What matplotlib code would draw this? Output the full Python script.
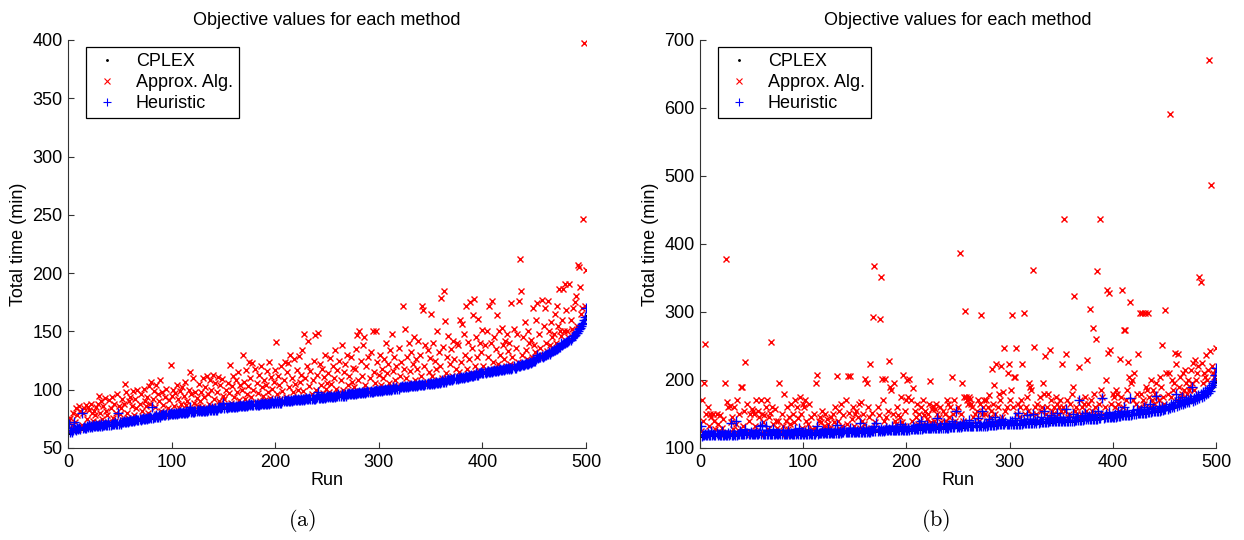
"""
Objective values for each method - two panel scatter of 500 runs.
CPLEX (exact), approximation algorithm and heuristic, sorted by CPLEX value.
"""

import numpy as np
import matplotlib
matplotlib.use("Agg")
import matplotlib.pyplot as plt

plt.rcParams["font.family"] = ["Liberation Sans", "DejaVu Sans"]
plt.rcParams["font.size"] = 13

# ---------------------------------------------------------------------------
# Data (one value per run, 25 runs per line)
# ---------------------------------------------------------------------------
RUNS = np.arange(1, 501)
X_TICKS = [0, 100, 200, 300, 400, 500]
Y_TICKS_A = [50, 100, 150, 200, 250, 300, 350, 400]
Y_TICKS_B = [100, 200, 300, 400, 500, 600, 700]
LABELS = ["CPLEX", "Approx. Alg.", "Heuristic"]
PANEL_TAGS = ["(a)", "(b)"]

# panel (a)
CPLEX_A = [
    63, 64, 64, 64, 65, 65, 65, 65, 65, 66, 66, 66, 66, 67, 67, 67, 67, 67, 68, 68, 68, 68, 68, 68, 69,
    69, 69, 69, 69, 69, 69, 69, 69, 70, 70, 70, 70, 70, 70, 70, 70, 70, 71, 71, 71, 71, 71, 71, 71, 71,
    71, 71, 72, 72, 72, 72, 72, 72, 73, 73, 73, 73, 73, 73, 74, 74, 74, 74, 74, 74, 75, 75, 75, 75, 75,
    75, 75, 76, 76, 76, 76, 76, 76, 77, 77, 77, 77, 77, 77, 77, 78, 78, 78, 78, 78, 78, 78, 79, 79, 79,
    79, 79, 79, 79, 79, 79, 80, 80, 80, 80, 80, 80, 80, 80, 80, 81, 81, 81, 81, 81, 81, 81, 81, 82, 82,
    82, 82, 82, 82, 82, 82, 82, 82, 82, 83, 83, 83, 83, 83, 83, 83, 83, 83, 83, 84, 84, 84, 84, 84, 84,
    84, 84, 84, 84, 85, 85, 85, 85, 85, 85, 85, 85, 85, 85, 86, 86, 86, 86, 86, 86, 86, 86, 86, 87, 87,
    87, 87, 87, 87, 87, 87, 87, 87, 87, 87, 88, 88, 88, 88, 88, 88, 88, 88, 88, 88, 89, 89, 89, 89, 89,
    89, 89, 89, 89, 89, 89, 89, 90, 90, 90, 90, 90, 90, 90, 90, 90, 90, 91, 91, 91, 91, 91, 91, 91, 91,
    91, 91, 91, 92, 92, 92, 92, 92, 92, 92, 92, 92, 92, 93, 93, 93, 93, 93, 93, 93, 93, 93, 93, 94, 94,
    94, 94, 94, 94, 94, 94, 94, 94, 94, 95, 95, 95, 95, 95, 95, 95, 95, 95, 95, 96, 96, 96, 96, 96, 96,
    96, 96, 96, 96, 97, 97, 97, 97, 97, 97, 97, 97, 98, 98, 98, 98, 98, 98, 98, 98, 99, 99, 99, 99, 99,
    99, 99, 99, 99, 100, 100, 100, 100, 100, 100, 100, 100, 101, 101, 101, 101, 101, 101, 101, 101, 102, 102, 102, 102, 102,
    102, 102, 102, 102, 103, 103, 103, 103, 103, 103, 103, 103, 104, 104, 104, 104, 104, 104, 104, 104, 105, 105, 105, 105, 105,
    105, 105, 105, 106, 106, 106, 106, 106, 106, 107, 107, 107, 107, 107, 107, 108, 108, 108, 108, 108, 108, 109, 109, 109, 109,
    109, 109, 110, 110, 110, 110, 110, 111, 111, 111, 111, 111, 112, 112, 112, 112, 112, 113, 113, 113, 113, 113, 114, 114, 114,
    114, 114, 114, 115, 115, 115, 115, 115, 115, 116, 116, 116, 116, 116, 116, 117, 117, 117, 117, 117, 117, 118, 118, 118, 118,
    118, 118, 118, 119, 119, 119, 119, 120, 120, 120, 120, 121, 121, 121, 121, 122, 122, 122, 122, 123, 123, 123, 124, 124, 125,
    125, 126, 126, 127, 127, 128, 128, 128, 129, 129, 130, 130, 131, 131, 131, 132, 132, 133, 133, 134, 134, 135, 135, 136, 137,
    137, 138, 139, 139, 140, 140, 141, 142, 142, 143, 144, 145, 146, 147, 148, 149, 150, 151, 153, 154, 155, 157, 159, 161, 163,
]
APPROX_A = [
    74, 76, 66, 70, 80, 65, 72, 84, 78, 66, 86, 82, 70, 80, 84, 68, 87, 75, 85, 83, 70, 88, 80, 73, 82,
    78, 85, 72, 88, 95, 80, 90, 75, 86, 70, 93, 82, 78, 72, 91, 84, 94, 76, 88, 73, 80, 96, 71, 86, 79,
    84, 92, 74, 88, 105, 98, 80, 76, 90, 94, 73, 86, 99, 78, 92, 84, 100, 75, 88, 96, 82, 77, 101, 90, 86,
    94, 80, 103, 88, 107, 77, 92, 99, 85, 104, 79, 96, 90, 108, 82, 98, 87, 78, 94, 101, 84, 91, 80, 121, 95,
    100, 86, 97, 81, 104, 92, 84, 99, 88, 102, 80, 95, 107, 87, 90, 83, 100, 115, 96, 84, 110, 89, 98, 93, 86,
    105, 90, 98, 85, 110, 94, 102, 84, 112, 96, 88, 108, 100, 86, 113, 92, 106, 84, 98, 111, 90, 104, 87, 109, 95,
    92, 100, 86, 106, 97, 121, 89, 103, 112, 94, 86, 108, 98, 115, 91, 104, 88, 100, 130, 107, 92, 117, 96, 103, 124,
    110, 94, 123, 100, 118, 89, 106, 97, 113, 90, 120, 102, 95, 108, 91, 104, 116, 98, 124, 93, 111, 101, 89, 107, 117,
    141, 96, 112, 104, 92, 120, 99, 108, 124, 94, 115, 123, 102, 130, 91, 110, 98, 126, 105, 93, 117, 100, 129, 107, 113,
    134, 99, 148, 110, 94, 120, 142, 103, 116, 96, 108, 125, 147, 100, 113, 149, 95, 122, 104, 118, 97, 111, 130, 101, 106,
    114, 98, 127, 105, 96, 120, 110, 134, 101, 117, 97, 125, 108, 138, 100, 115, 122, 96, 130, 104, 112, 99, 128, 107, 119,
    102, 118, 135, 147, 108, 150, 99, 125, 112, 138, 145, 104, 120, 100, 128, 110, 132, 98, 150, 115, 106, 150, 124, 101, 113,
    130, 104, 118, 110, 126, 100, 140, 114, 122, 106, 134, 102, 148, 116, 128, 108, 120, 103, 136, 112, 124, 103, 172, 118, 152,
    110, 128, 104, 140, 116, 132, 106, 122, 145, 108, 126, 118, 142, 104, 130, 112, 172, 168, 120, 138, 107, 134, 115, 127, 165,
    112, 140, 106, 125, 118, 150, 108, 132, 120, 179, 110, 137, 185, 159, 114, 128, 146, 109, 122, 135, 112, 142, 126, 118, 140,
    138, 115, 160, 124, 156, 112, 148, 130, 172, 118, 141, 126, 175, 114, 136, 164, 178, 120, 145, 128, 161, 116, 140, 132, 151,
    120, 138, 116, 150, 128, 172, 118, 140, 176, 124, 145, 117, 135, 164, 122, 150, 130, 119, 153, 138, 126, 142, 120, 148, 133,
    140, 122, 174, 128, 152, 120, 136, 148, 124, 176, 212, 185, 130, 145, 122, 158, 134, 126, 150, 140, 124, 143, 128, 170, 138,
    132, 160, 174, 128, 148, 136, 177, 130, 155, 170, 140, 133, 176, 150, 138, 158, 145, 135, 148, 165, 140, 172, 155, 186, 150,
    146, 160, 186, 150, 191, 168, 150, 145, 191, 160, 152, 170, 148, 175, 180, 155, 207, 205, 188, 165, 170, 246, 397, 172, 203,
]
HEUR_A = [
    71, 64, 65, 64, 65, 72, 66, 65, 67, 66, 67, 66, 80, 67, 68, 67, 67, 69, 68, 70, 68, 69, 68, 70, 69,
    69, 70, 69, 69, 70, 69, 71, 69, 70, 70, 71, 70, 70, 72, 70, 70, 71, 71, 71, 72, 71, 71, 80, 71, 72,
    71, 72, 72, 73, 72, 72, 73, 72, 73, 74, 73, 73, 74, 73, 74, 75, 74, 74, 75, 74, 75, 76, 75, 75, 76,
    75, 76, 76, 77, 76, 85, 76, 77, 77, 78, 77, 77, 78, 77, 78, 78, 79, 78, 78, 79, 78, 79, 79, 80, 79,
    79, 80, 79, 80, 79, 80, 80, 81, 80, 80, 81, 80, 80, 81, 80, 81, 82, 85, 81, 82, 81, 81, 82, 82, 83,
    82, 83, 82, 82, 83, 82, 82, 83, 82, 83, 84, 83, 83, 84, 83, 83, 84, 83, 83, 84, 85, 84, 84, 85, 89,
    84, 85, 84, 85, 85, 86, 85, 85, 86, 85, 85, 86, 85, 86, 86, 87, 86, 86, 87, 86, 86, 87, 86, 87, 88,
    87, 88, 87, 87, 88, 87, 88, 87, 87, 88, 88, 89, 88, 88, 89, 88, 88, 89, 88, 89, 89, 90, 89, 89, 90,
    89, 90, 89, 90, 89, 89, 90, 90, 91, 90, 90, 91, 90, 90, 91, 90, 91, 91, 92, 91, 91, 92, 91, 91, 92,
    91, 92, 91, 92, 93, 92, 92, 93, 92, 92, 93, 92, 92, 93, 94, 98, 93, 93, 94, 93, 93, 94, 93, 94, 95,
    94, 95, 94, 95, 94, 94, 95, 94, 95, 95, 96, 95, 95, 96, 95, 95, 96, 95, 96, 96, 97, 96, 96, 97, 96,
    96, 97, 96, 97, 97, 98, 97, 97, 98, 97, 98, 97, 98, 99, 98, 98, 99, 98, 98, 99, 99, 100, 99, 99, 100,
    99, 100, 99, 100, 100, 101, 100, 100, 101, 100, 101, 100, 101, 102, 101, 101, 102, 101, 101, 102, 102, 103, 102, 102, 103,
    102, 103, 102, 103, 103, 104, 103, 103, 104, 103, 104, 103, 104, 105, 104, 104, 105, 104, 104, 105, 105, 106, 105, 105, 106,
    105, 106, 105, 106, 107, 106, 106, 107, 106, 107, 108, 107, 107, 108, 107, 108, 109, 108, 108, 109, 108, 109, 110, 109, 110,
    109, 110, 110, 111, 110, 111, 110, 111, 112, 111, 111, 112, 112, 113, 112, 112, 113, 113, 114, 113, 113, 114, 114, 115, 114,
    114, 115, 114, 115, 116, 115, 115, 116, 115, 116, 117, 116, 116, 117, 116, 117, 118, 117, 117, 118, 117, 118, 119, 118, 119,
    118, 119, 118, 119, 120, 119, 119, 120, 121, 120, 120, 121, 122, 121, 121, 122, 123, 122, 122, 123, 124, 123, 124, 125, 125,
    125, 126, 130, 127, 128, 128, 129, 128, 129, 130, 130, 131, 131, 132, 131, 132, 133, 133, 134, 134, 135, 135, 136, 137, 137,
    140, 138, 139, 140, 140, 141, 141, 142, 143, 143, 144, 146, 146, 147, 149, 149, 150, 152, 153, 155, 156, 157, 160, 162, 170,
]

# panel (b)
CPLEX_B = [
    118, 118, 118, 119, 119, 119, 119, 119, 119, 119, 119, 119, 119, 119, 119, 119, 119, 119, 119, 119, 119, 119, 119, 119, 119,
    119, 119, 119, 119, 119, 119, 119, 119, 119, 119, 119, 119, 120, 120, 120, 120, 120, 120, 120, 120, 120, 120, 120, 120, 120,
    120, 120, 120, 120, 120, 120, 120, 120, 120, 120, 120, 120, 120, 120, 120, 120, 120, 120, 120, 120, 120, 120, 120, 120, 120,
    120, 120, 120, 120, 120, 120, 120, 120, 120, 120, 120, 120, 120, 120, 120, 121, 121, 121, 121, 121, 121, 121, 121, 121, 121,
    121, 121, 121, 121, 121, 121, 121, 121, 121, 121, 121, 121, 121, 121, 121, 122, 122, 122, 122, 122, 122, 122, 122, 122, 122,
    122, 122, 122, 122, 122, 122, 122, 122, 122, 122, 122, 122, 123, 123, 123, 123, 123, 123, 123, 123, 123, 123, 123, 123, 123,
    123, 123, 123, 123, 123, 123, 124, 124, 124, 124, 124, 124, 124, 124, 124, 124, 125, 125, 125, 125, 125, 125, 125, 125, 125,
    125, 125, 125, 125, 125, 126, 126, 126, 126, 126, 126, 126, 126, 126, 126, 127, 127, 127, 127, 127, 127, 127, 127, 127, 127,
    127, 127, 127, 127, 127, 128, 128, 128, 128, 128, 128, 128, 128, 128, 128, 129, 129, 129, 129, 129, 129, 129, 129, 129, 129,
    129, 129, 129, 129, 129, 130, 130, 130, 130, 130, 130, 130, 130, 130, 130, 131, 131, 131, 131, 131, 131, 131, 131, 131, 131,
    131, 131, 131, 131, 131, 132, 132, 132, 132, 132, 132, 132, 132, 132, 132, 133, 133, 133, 133, 133, 133, 133, 133, 133, 133,
    133, 133, 133, 134, 134, 134, 134, 134, 134, 134, 134, 134, 134, 135, 135, 135, 135, 135, 135, 135, 135, 135, 135, 136, 136,
    136, 136, 136, 136, 136, 136, 136, 136, 136, 136, 136, 136, 137, 137, 137, 137, 137, 137, 137, 137, 137, 137, 137, 137, 137,
    137, 137, 137, 137, 137, 138, 138, 138, 138, 138, 138, 138, 138, 138, 138, 139, 139, 139, 139, 139, 139, 139, 139, 139, 139,
    139, 139, 139, 139, 139, 140, 140, 140, 140, 140, 140, 140, 140, 141, 141, 141, 141, 141, 141, 141, 141, 142, 142, 142, 142,
    142, 142, 142, 142, 143, 143, 143, 143, 143, 143, 144, 144, 144, 144, 144, 144, 145, 145, 145, 145, 145, 146, 146, 146, 146,
    146, 146, 146, 147, 147, 147, 147, 147, 148, 148, 148, 148, 148, 149, 149, 149, 149, 149, 150, 150, 150, 150, 151, 151, 151,
    151, 151, 152, 152, 152, 152, 152, 153, 153, 153, 153, 153, 154, 154, 154, 154, 154, 155, 155, 155, 155, 156, 156, 156, 156,
    157, 157, 158, 158, 159, 159, 160, 160, 161, 161, 162, 162, 163, 163, 164, 164, 164, 165, 165, 166, 166, 167, 167, 168, 168,
    168, 169, 169, 170, 170, 171, 172, 172, 173, 174, 175, 176, 177, 178, 179, 180, 181, 183, 184, 186, 188, 190, 193, 197, 202,
]
APPROX_B = [
    125, 170, 140, 196, 253, 150, 120, 160, 132, 150, 145, 122, 150, 140, 128, 150, 135, 125, 148, 122, 130, 142, 120, 196, 378,
    168, 160, 122, 162, 138, 145, 128, 160, 120, 135, 170, 126, 150, 121, 190, 190, 132, 155, 227, 124, 165, 140, 150, 121, 158,
    155, 150, 132, 170, 125, 155, 145, 120, 170, 150, 138, 148, 122, 160, 170, 128, 145, 152, 256, 160, 135, 123, 158, 140, 130,
    140, 196, 125, 150, 132, 180, 121, 140, 160, 128, 145, 135, 165, 122, 150, 138, 170, 125, 160, 144, 123, 175, 150, 130, 165,
    160, 170, 140, 126, 135, 165, 123, 145, 128, 150, 130, 195, 207, 125, 140, 145, 138, 155, 124, 132, 150, 126, 142, 135, 128,
    130, 145, 124, 150, 138, 160, 126, 206, 140, 155, 128, 165, 132, 148, 125, 170, 136, 206, 152, 206, 127, 142, 160, 133, 150,
    155, 126, 145, 165, 130, 168, 140, 150, 135, 202, 128, 196, 160, 145, 223, 130, 152, 292, 367, 138, 126, 160, 148, 290, 352,
    201, 170, 140, 201, 145, 130, 155, 228, 190, 185, 128, 150, 196, 140, 135, 160, 148, 130, 145, 175, 138, 207, 132, 155, 170,
    200, 175, 201, 170, 140, 188, 130, 155, 145, 165, 135, 150, 140, 160, 132, 170, 148, 155, 135, 142, 150, 165, 199, 138, 158,
    162, 140, 158, 165, 150, 135, 145, 160, 138, 155, 132, 150, 140, 170, 165, 145, 160, 135, 204, 150, 170, 140, 155, 136, 160,
    135, 387, 150, 196, 140, 175, 302, 175, 170, 165, 175, 172, 165, 160, 145, 150, 135, 155, 170, 140, 165, 296, 150, 160, 170,
    150, 170, 140, 160, 178, 145, 155, 216, 165, 192, 150, 223, 140, 160, 180, 170, 220, 145, 183, 247, 155, 160, 210, 223, 170,
    185, 296, 160, 205, 205, 247, 150, 165, 145, 160, 170, 223, 140, 298, 150, 160, 175, 155, 195, 190, 185, 150, 362, 249, 160,
    150, 165, 140, 175, 155, 160, 195, 180, 235, 150, 160, 180, 145, 244, 170, 155, 150, 160, 145, 175, 165, 150, 160, 170, 155,
    224, 160, 437, 155, 238, 170, 145, 150, 165, 180, 190, 324, 155, 160, 150, 145, 219, 170, 150, 160, 145, 165, 175, 155, 229,
    165, 150, 304, 170, 155, 276, 180, 160, 260, 360, 150, 165, 437, 185, 175, 150, 160, 200, 332, 240, 328, 244, 165, 150, 180,
    175, 160, 185, 180, 165, 155, 231, 175, 332, 160, 274, 274, 170, 185, 227, 205, 314, 195, 200, 170, 210, 165, 180, 238, 160,
    298, 180, 298, 170, 165, 298, 190, 185, 298, 175, 160, 200, 170, 185, 165, 180, 195, 175, 160, 170, 205, 190, 251, 175, 165,
    303, 210, 180, 210, 591, 175, 200, 185, 195, 239, 224, 170, 238, 190, 205, 175, 180, 210, 185, 215, 195, 180, 200, 185, 190,
    215, 195, 225, 185, 230, 200, 210, 220, 351, 344, 225, 195, 210, 205, 237, 200, 215, 670, 242, 487, 220, 210, 205, 215, 247,
]
HEUR_B = [
    132, 118, 119, 119, 120, 119, 119, 122, 119, 119, 125, 119, 120, 119, 119, 122, 119, 120, 119, 119, 125, 119, 119, 120, 119,
    119, 122, 119, 120, 137, 119, 119, 121, 119, 140, 119, 120, 120, 125, 120, 121, 120, 120, 128, 120, 122, 120, 120, 124, 120,
    120, 121, 120, 124, 120, 120, 122, 132, 120, 134, 120, 121, 120, 133, 120, 120, 125, 120, 121, 120, 128, 120, 120, 122, 120,
    120, 122, 120, 120, 126, 120, 121, 120, 120, 125, 120, 120, 122, 120, 120, 121, 128, 121, 122, 121, 129, 121, 121, 124, 121,
    121, 123, 121, 121, 127, 121, 122, 121, 121, 121, 121, 124, 133, 121, 122, 122, 122, 125, 122, 122, 123, 122, 122, 128, 122,
    122, 124, 122, 122, 122, 127, 122, 134, 122, 122, 125, 122, 123, 123, 126, 123, 123, 124, 123, 130, 123, 123, 127, 123, 124,
    123, 125, 123, 124, 137, 123, 124, 126, 124, 124, 129, 124, 125, 124, 124, 127, 125, 125, 132, 125, 137, 125, 126, 125, 128,
    125, 127, 125, 126, 130, 126, 126, 128, 126, 126, 132, 126, 127, 126, 126, 129, 127, 127, 135, 127, 128, 127, 127, 131, 127,
    127, 130, 127, 128, 128, 132, 128, 128, 130, 128, 128, 136, 128, 139, 128, 129, 131, 129, 129, 134, 129, 130, 129, 129, 133,
    129, 132, 129, 130, 144, 130, 130, 133, 130, 130, 137, 130, 131, 130, 130, 134, 131, 131, 140, 131, 131, 135, 155, 131, 132,
    131, 134, 131, 132, 138, 132, 132, 136, 132, 132, 141, 132, 133, 132, 132, 137, 133, 133, 144, 133, 134, 133, 155, 133, 136,
    133, 137, 133, 134, 142, 134, 134, 138, 134, 134, 146, 134, 135, 135, 140, 135, 135, 143, 135, 135, 138, 135, 135, 136, 140,
    136, 140, 136, 136, 144, 136, 136, 152, 136, 136, 141, 136, 137, 139, 137, 137, 148, 137, 137, 142, 137, 137, 150, 137, 140,
    137, 141, 137, 138, 145, 138, 138, 155, 138, 138, 143, 138, 139, 139, 148, 139, 139, 142, 139, 139, 151, 139, 139, 144, 139,
    139, 143, 139, 140, 158, 140, 140, 145, 140, 140, 150, 140, 141, 141, 146, 141, 171, 141, 141, 148, 141, 142, 152, 142, 145,
    142, 147, 142, 142, 150, 143, 143, 148, 143, 143, 155, 144, 144, 149, 173, 144, 145, 150, 145, 145, 153, 146, 146, 147, 146,
    146, 150, 146, 147, 155, 147, 147, 152, 148, 148, 160, 148, 148, 153, 149, 149, 173, 149, 150, 156, 150, 150, 158, 151, 151,
    151, 156, 152, 152, 160, 152, 152, 158, 153, 153, 165, 153, 154, 159, 154, 154, 176, 155, 155, 162, 155, 156, 160, 156, 158,
    157, 162, 158, 160, 159, 165, 160, 163, 161, 167, 179, 162, 170, 163, 168, 164, 175, 165, 168, 166, 172, 167, 171, 168, 173,
    172, 190, 169, 174, 170, 176, 172, 178, 173, 180, 175, 182, 177, 184, 179, 185, 181, 188, 184, 190, 192, 195, 198, 208, 217,
]


# ---------------------------------------------------------------------------
# Drawing
# ---------------------------------------------------------------------------
def draw_panel(ax, cplex, approx, heur, ylim, yticks):
    """One panel: the three methods as marker-only series."""
    ax.plot(RUNS, cplex, ".", color="black", markersize=2.5, label=LABELS[0])
    ax.plot(RUNS, approx, "x", color="red", markersize=4.5, mew=1.0, label=LABELS[1])
    ax.plot(RUNS, heur, "+", color="blue", markersize=7, mew=1.0, label=LABELS[2])

    ax.set_xlim(0, 500)
    ax.set_ylim(*ylim)
    ax.set_xticks(X_TICKS)
    ax.set_yticks(yticks)

    # MATLAB look: box off, ticks pointing in
    for side in ("top", "right"):
        ax.spines[side].set_visible(False)
    for side in ("left", "bottom"):
        ax.spines[side].set_color("#333333")
        ax.spines[side].set_linewidth(0.8)
    ax.tick_params(direction="in", length=4, width=0.8, color="#333333",
                   labelsize=13, pad=4)

    ax.set_title("Objective values for each method", fontsize=13, pad=11)
    ax.set_xlabel("Run", fontsize=13, labelpad=1)
    ax.set_ylabel("Total time (min)", fontsize=13, labelpad=4)

    leg = ax.legend(loc="upper left", bbox_to_anchor=(0.035, 0.983),
                    borderaxespad=0, fancybox=False, framealpha=1,
                    edgecolor="black", fontsize=13, handlelength=1.6,
                    handletextpad=0.8, labelspacing=0.22, borderpad=0.35)
    leg.get_frame().set_linewidth(0.9)
    # legend symbols are drawn smaller than the plot markers
    for handle, size in zip(leg.legend_handles, (2.5, 4, 5.5)):
        handle.set_markersize(size)
        handle.set_markeredgewidth(0.8)


fig = plt.figure(figsize=(12.44, 5.40), dpi=100)
ax_a = fig.add_axes([0.0547, 0.1704, 0.4164, 0.7556])
ax_b = fig.add_axes([0.5627, 0.1704, 0.4148, 0.7556])

draw_panel(ax_a, CPLEX_A, APPROX_A, HEUR_A, (50, 400), Y_TICKS_A)
draw_panel(ax_b, CPLEX_B, APPROX_B, HEUR_B, (100, 700), Y_TICKS_B)

# sub-figure captions in a LaTeX-like serif
for xc, tag in zip((0.243, 0.752), PANEL_TAGS):
    fig.text(xc, 0.037, r"$\mathrm{" + tag + "}$", math_fontfamily="cm",
             fontsize=16, ha="center", va="center")

fig.savefig("out.png", dpi=100)
